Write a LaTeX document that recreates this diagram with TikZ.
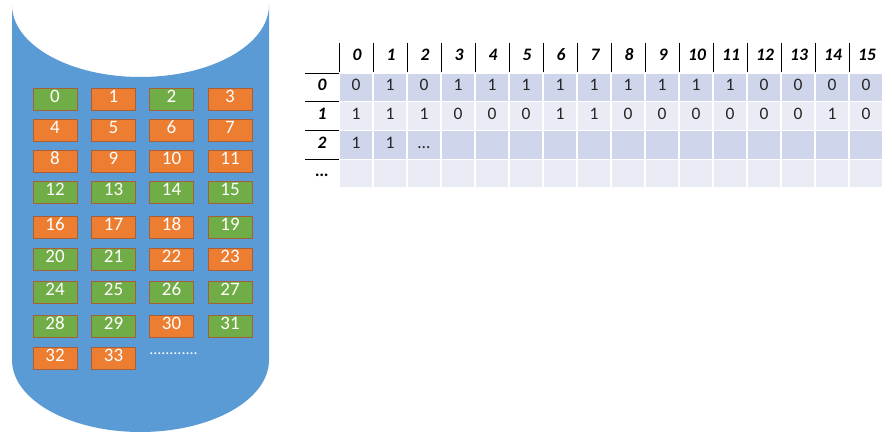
\documentclass[tikz,border=0pt]{standalone}
\usepackage{fontspec}
\setmainfont{Carlito}
\definecolor{cylblue}{HTML}{5B9BD5}
\definecolor{boxgreen}{HTML}{70AD47}
\definecolor{boxorange}{HTML}{ED7D31}
\definecolor{boxedge}{HTML}{A5603A}
\definecolor{rowdark}{HTML}{CFD5EA}
\definecolor{rowlight}{HTML}{E9EBF5}
\definecolor{celltxt}{HTML}{262626}
\begin{document}
\begin{tikzpicture}[x=1pt,y=1pt,
  idbox/.style={minimum width=44pt, minimum height=22pt, inner sep=0pt, draw=boxedge, line width=0.8pt,
    text=white, font=\fontsize{19}{19}\selectfont, text height=0.63em, text depth=0pt},
  gbox/.style={idbox, fill=boxgreen},
  obox/.style={idbox, fill=boxorange},
  cell/.style={minimum width=34pt, minimum height=28.75pt, inner sep=0pt, draw=white, line width=1.3pt,
    text=celltxt, font=\fontsize{17.5}{17.5}\selectfont, text height=0.63em, text depth=0pt},
  hdr/.style={inner sep=0pt, font=\fontsize{17.5}{17.5}\selectfont\bfseries\itshape, text height=0.63em, text depth=0pt},
  hline/.style={draw=black, line width=0.8pt}
]
\useasboundingbox (0,0) rectangle (892,442);
% cylinder
\fill[cylblue] (12,437) -- (12,82)
  arc[start angle=180, end angle=360, x radius=128.5pt, y radius=72pt]
  -- (269,437)
  arc[start angle=0, end angle=-180, x radius=128.5pt, y radius=72pt] -- cycle;
% boxes
\def\colx{{55,113.5,171.5,230}}
\def\rowy{{343,312,280.5,249.5,215,182.5,149.5,116,84}}
\foreach \n/\s in {0/g,1/o,2/g,3/o,4/o,5/o,6/o,7/o,8/o,9/o,10/o,11/o,12/g,13/g,14/g,15/g,
                   16/o,17/o,18/o,19/g,20/g,21/g,22/o,23/o,24/g,25/g,26/g,27/g,28/g,29/g,30/o,31/g,32/o,33/o}{
  \pgfmathsetmacro{\bx}{\colx[mod(\n,4)]}
  \pgfmathsetmacro{\by}{\rowy[div(\n,4)]}
  \node[\s box] (b\n) at (\bx,\by) {\n};
}
\node[text=white, inner sep=0pt, font=\fontsize{16}{16}\selectfont] (bdots) at (173.5,88) {............};
% table cells
\foreach \v [count=\c from 0] in {0,1,0,1,1,1,1,1,1,1,1,1,0,0,0,0}{
  \node[cell, fill=rowdark] (t0-\c) at (356+34*\c, 354.625) {\v};
}
\foreach \v [count=\c from 0] in {1,1,1,0,0,0,1,1,0,0,0,0,0,0,1,0}{
  \node[cell, fill=rowlight] (t1-\c) at (356+34*\c, 325.875) {\v};
}
\foreach \c in {0,...,15}{
  \node[cell, fill=rowdark] (t2-\c) at (356+34*\c, 297.125) {};
  \node[cell, fill=rowlight] (t3-\c) at (356+34*\c, 268.375) {};
}
\node[cell, draw=none, fill=none] (v2-0) at (t2-0) {1};
\node[cell, draw=none, fill=none] (v2-1) at (t2-1) {1};
\node[cell, draw=none, fill=none] (v2-2) at (t2-2) {\ldots};
% header
\foreach \c in {0,...,15}{
  \node[hdr] (h\c) at (357+34*\c, 384.5) {\c};
  \draw[hline] (339+34*\c,399) -- (339+34*\c,370);
}
% row labels
\foreach \r/\t in {0/0,1/1,2/2,3/{\ldots}}{
  \node[hdr] (r\r) at (322, 354.625-28.75*\r) {\t};
}
\foreach \r in {0,...,3}{
  \draw[hline] (305,369-28.75*\r) -- (339,369-28.75*\r);
}
\end{tikzpicture}
\end{document}
